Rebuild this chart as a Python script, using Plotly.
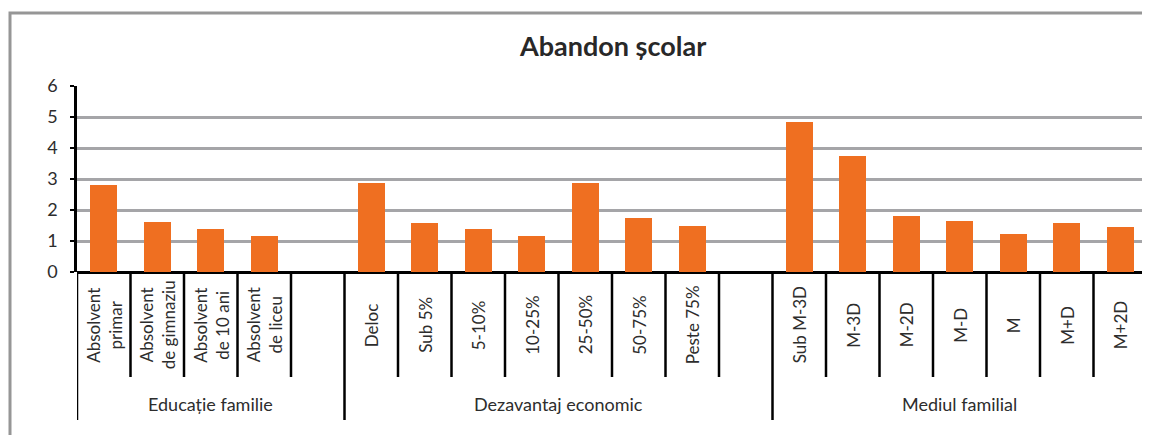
import plotly.graph_objects as go

# data
edu_labels = ['Absolvent<br>primar', 'Absolvent<br>de gimnaziu', 'Absolvent<br>de 10 ani', 'Absolvent<br>de liceu']
edu_values = [2.80, 1.60, 1.40, 1.17]

econ_labels = ['Deloc', 'Sub 5%', '5-10%', '10-25%', '25-50%', '50-75%', 'Peste 75%']
econ_values = [2.86, 1.57, 1.40, 1.17, 2.86, 1.73, 1.48]

family_labels = ['Sub M-3D', 'M-3D', 'M-2D', 'M-D', 'M', 'M+D', 'M+2D']
family_values = [4.83, 3.74, 1.82, 1.65, 1.23, 1.57, 1.46]

group_names = ['Educație familie', 'Dezavantaj economic', 'Mediul familial']
y_ticks = [0, 1, 2, 3, 4, 5, 6]

title = 'Abandon școlar'

BAR = 'rgb(239, 111, 33)'
GRID = 'rgb(165, 165, 168)'
TXT = 'rgb(45, 45, 45)'
FONT = 'Lato'

# lay groups out on a numeric axis, one empty slot after the first two groups
groups = [(edu_labels, edu_values, True), (econ_labels, econ_values, True),
          (family_labels, family_values, False)]
xs, ys, labs = [], [], []
bounds = []  # (start, end) slot edges of each group
pos = 0
for labels, values, gap in groups:
    start = pos - 0.5
    for l, v in zip(labels, values):
        xs.append(pos)
        ys.append(v)
        labs.append(l)
        pos += 1
    if gap:
        pos += 1
    bounds.append((start, pos - 0.5))
n_slots = pos

fig = go.Figure(go.Bar(x=xs, y=ys, width=0.5, marker=dict(color=BAR, line=dict(width=0)),
                       showlegend=False))

# page puts the figure 8px in from the window corner
OFF = 8
W, H = 1150, 435
PL, PR, PT, PB = 77, 1147, 86, 272   # plot area in window pixels
L, T = PL - OFF, PT - OFF
R = W - (PR - OFF)
B = H - (PB - OFF)
pw, ph = PR - PL, PB - PT

def px_y(py):
    # window pixel row -> paper y
    return (PB - py) / ph

def px_x(px):
    return (px - PL) / pw

shapes = []
# outer gray frame (runs off the right/bottom of the picture)
shapes.append(dict(type='rect', xref='paper', yref='paper',
                   x0=px_x(10), x1=px_x(1170), y0=px_y(13), y1=px_y(460),
                   line=dict(color='rgb(150,150,150)', width=3), layer='below'))

short_bottom = px_y(377)
long_bottom = px_y(420)
edges = sorted(set([b for g in bounds for b in g]))
for i in range(n_slots + 1):
    x = i - 0.5
    yb = long_bottom if x in edges else short_bottom
    shapes.append(dict(type='line', xref='x', yref='paper', x0=x, x1=x, y0=0, y1=yb,
                       line=dict(color='black', width=2.5)))
# right edge line
shapes.append(dict(type='line', xref='x', yref='paper', x0=n_slots - 0.5, x1=n_slots - 0.5,
                   y0=1, y1=0, line=dict(color='black', width=2.5)))

annotations = []
for x, l in zip(xs, labs):
    annotations.append(dict(xref='x', yref='paper', x=x, y=px_y(325), text=l, textangle=-90,
                            showarrow=False, font=dict(family=FONT, size=17, color=TXT),
                            xanchor='center', yanchor='middle', align='center'))
for (a, b), name in zip(bounds, group_names):
    annotations.append(dict(xref='x', yref='paper', x=(a + b) / 2, y=px_y(404), text=name,
                            showarrow=False, font=dict(family=FONT, size=18, color=TXT),
                            xanchor='center', yanchor='middle'))
annotations.append(dict(xref='paper', yref='paper', x=0.5, y=px_y(46), text='<b>' + title + '</b>',
                        showarrow=False, font=dict(family=FONT, size=27, color='rgb(40,40,40)'),
                        xanchor='center', yanchor='middle'))

fig.update_layout(
    width=W, height=H,
    margin=dict(l=L, r=R, t=T, b=B),
    paper_bgcolor='white', plot_bgcolor='white',
    font=dict(family=FONT, color=TXT),
    xaxis=dict(range=[-0.5, n_slots - 0.5], showticklabels=False, showgrid=False,
               zeroline=False, showline=False, fixedrange=True),
    yaxis=dict(range=[0, 6], tickvals=y_ticks, showgrid=True, gridcolor=GRID, gridwidth=3,
               zeroline=True, zerolinecolor='black', zerolinewidth=2.5,
               showline=True, linecolor='black', linewidth=2.5,
               ticks='outside', ticklen=4, tickwidth=2, tickcolor='black',
               ticklabelstandoff=9,
               tickfont=dict(family=FONT, size=18, color=TXT), fixedrange=True),
    shapes=shapes, annotations=annotations, bargap=0,
)

fig.write_html('out.html')
